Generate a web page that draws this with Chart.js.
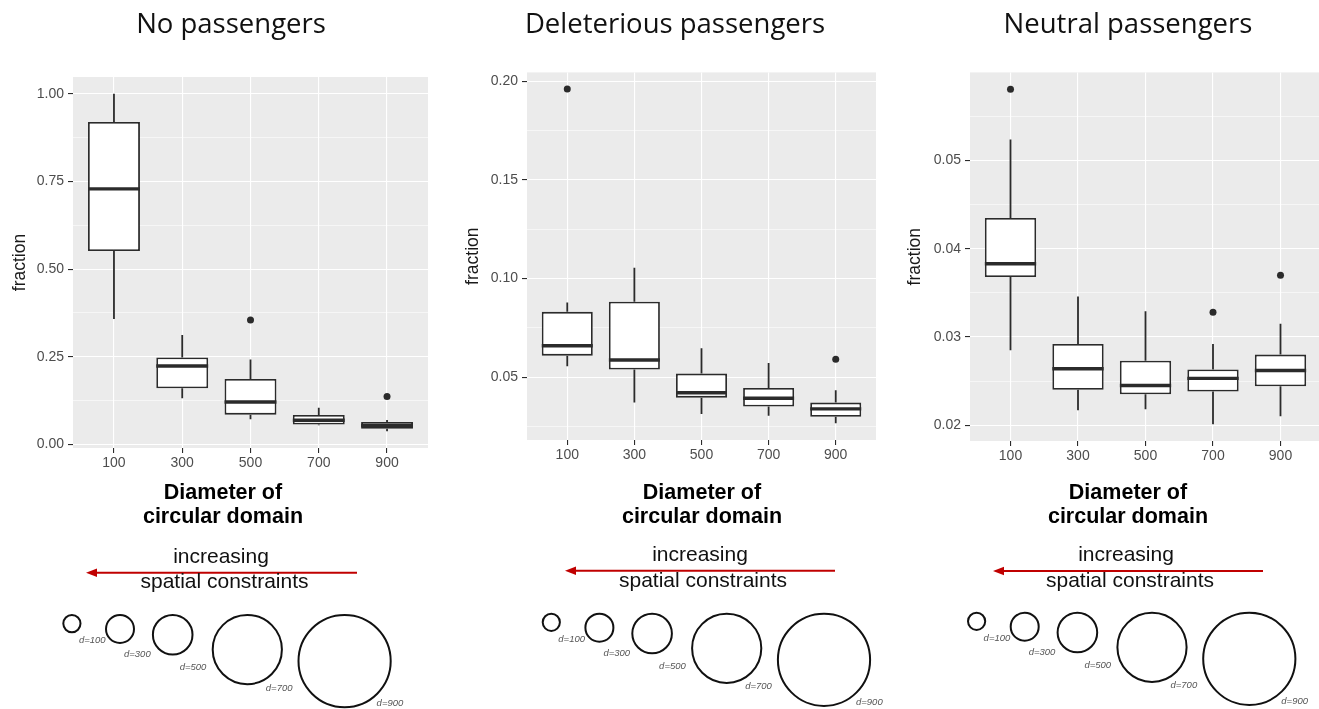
<!DOCTYPE html>
<html>
<head>
<meta charset="utf-8">
<script src="https://cdn.jsdelivr.net/npm/chart.js@4.4.1/dist/chart.umd.min.js"></script>
<style>
html, body { margin: 0; padding: 0; background: #fff; overflow: hidden; }
#page { position: relative; width: 1319px; height: 709px; overflow: hidden; background: #fff; }
#page canvas { position: absolute; }
#deco { position: absolute; left: 0; top: 0; }
</style>
</head>
<body>
<div id="page">
    <canvas id="c1" width="440" height="420" style="left:0px;top:60px"></canvas>
    <canvas id="c2" width="440" height="420" style="left:440px;top:60px"></canvas>
    <canvas id="c3" width="445" height="420" style="left:880px;top:60px"></canvas>
    <svg id="deco" width="1319" height="709"></svg>
</div>
<script>
// categories on the x axis
var diameters = ['100', '300', '500', '700', '900'];
var panelTitles = ['No passengers', 'Deleterious passengers', 'Neutral passengers'];

// No passengers: whisker ends, quartiles, medians
var noLow  = [0.358, 0.132, 0.072, 0.055, 0.038];
var noQ1   = [0.552, 0.160, 0.085, 0.057, 0.045];
var noMed  = [0.729, 0.224, 0.121, 0.069, 0.054];
var noQ3   = [0.920, 0.248, 0.187, 0.084, 0.064];
var noHigh = [1.000, 0.312, 0.242, 0.105, 0.070];
var noOutliers = [[], [], [0.355], [], [0.137]];
var noTicks = [0, 0.25, 0.50, 0.75, 1.00];

// Deleterious passengers
var delLow  = [0.0555, 0.0371, 0.0313, 0.0304, 0.0266];
var delQ1   = [0.0609, 0.0539, 0.0396, 0.0351, 0.0299];
var delMed  = [0.0659, 0.0587, 0.0421, 0.0393, 0.0339];
var delQ3   = [0.0831, 0.0882, 0.0518, 0.0445, 0.0371];
var delHigh = [0.0878, 0.1054, 0.0646, 0.0572, 0.0433];
var delOutliers = [[0.196], [], [], [], [0.059]];
var delTicks = [0.05, 0.10, 0.15, 0.20];

// Neutral passengers
var neuLow  = [0.0285, 0.0217, 0.0218, 0.0201, 0.0210];
var neuQ1   = [0.0368, 0.0240, 0.0235, 0.0238, 0.0244];
var neuMed  = [0.0383, 0.0264, 0.0245, 0.0253, 0.0262];
var neuQ3   = [0.0435, 0.0292, 0.0273, 0.0263, 0.0280];
var neuHigh = [0.0524, 0.0346, 0.0329, 0.0292, 0.0315];
var neuOutliers = [[0.0581], [], [], [0.0328], [0.0370]];
var neuTicks = [0.02, 0.03, 0.04, 0.05];

var INK = '#2b2b2b';
var TICKTEXT = '#4d4d4d';

function makeChart(id, low, q1, med, q3, high, outliers, yTicks, geom) {
    var outPts = [];
    var flatOut = [];
    outliers.forEach(function(list, i) {
        list.forEach(function(v) { outPts.push({x: i, y: v}); flatOut.push(v); });
    });
    // ggplot style 5% expansion of the data range
    var lo = Math.min.apply(null, low.concat(flatOut));
    var hi = Math.max.apply(null, high.concat(flatOut));
    var yMin = lo - (hi - lo) * 0.05;
    var yMax = hi + (hi - lo) * 0.05;

    // major ticks plus minor ones half way between
    var step = yTicks[1] - yTicks[0];
    var allTicks = yTicks.map(function(v) { return {value: v, isMain: true}; });
    for (var k = -1; k < yTicks.length; k++) {
        var m = yTicks[0] + (k + 0.5) * step;
        if (m > yMin && m < yMax) allTicks.push({value: m, isMain: false});
    }
    allTicks.sort(function(a, b) { return a.value - b.value; });

    var boxPlugin = {
        id: 'boxWhiskers',
        beforeDraw: function(chart) {
            var a = chart.chartArea;
            chart.ctx.save();
            chart.ctx.fillStyle = '#EBEBEB';
            chart.ctx.fillRect(a.left, a.top, a.right - a.left, a.bottom - a.top);
            chart.ctx.restore();
        },
        afterDatasetsDraw: function(chart) {
            var ctx = chart.ctx;
            var ys = chart.scales.y;
            var bars = chart.getDatasetMeta(0).data;
            ctx.save();
            ctx.strokeStyle = INK;
            ctx.lineCap = 'butt';
            bars.forEach(function(bar, i) {
                var p = bar.getProps(['x', 'width'], true);
                // whiskers
                ctx.lineWidth = 1.8;
                ctx.beginPath();
                ctx.moveTo(p.x, ys.getPixelForValue(q3[i]));
                ctx.lineTo(p.x, ys.getPixelForValue(high[i]));
                ctx.moveTo(p.x, ys.getPixelForValue(q1[i]));
                ctx.lineTo(p.x, ys.getPixelForValue(low[i]));
                ctx.stroke();
                // median
                ctx.lineWidth = 3.4;
                ctx.beginPath();
                var my = ys.getPixelForValue(med[i]);
                ctx.moveTo(p.x - p.width / 2, my);
                ctx.lineTo(p.x + p.width / 2, my);
                ctx.stroke();
            });
            ctx.restore();
        }
    };

    return new Chart(document.getElementById(id).getContext('2d'), {
        type: 'bar',
        data: {
            datasets: [{
                type: 'bar',
                data: diameters.map(function(d, i) { return {x: i, y: [q1[i], q3[i]]}; }),
                backgroundColor: '#ffffff',
                borderColor: INK,
                borderWidth: 1.8,
                borderSkipped: false,
                categoryPercentage: 1,
                barPercentage: 0.76
            }, {
                type: 'scatter',
                data: outPts,
                pointRadius: 3.5,
                pointBackgroundColor: INK,
                pointBorderWidth: 0
            }]
        },
        options: {
            responsive: false,
            animation: false,
            devicePixelRatio: 1,
            layout: { padding: { top: geom.padTop, right: geom.padRight, left: 0, bottom: 0 } },
            plugins: { legend: { display: false }, tooltip: { enabled: false } },
            scales: {
                x: {
                    type: 'linear',
                    min: -0.6,
                    max: diameters.length - 1 + 0.6,
                    offset: false,
                    afterBuildTicks: function(s) {
                        s.ticks = diameters.map(function(d, i) { return {value: i}; });
                    },
                    afterFit: function(s) { s.height = geom.xHeight; },
                    ticks: {
                        autoSkip: false,
                        maxRotation: 0,
                        padding: 2,
                        color: TICKTEXT,
                        font: { family: 'Liberation Sans', size: 14 },
                        callback: function(v) { return diameters[Math.round(v)]; }
                    },
                    grid: { offset: false, color: '#ffffff', lineWidth: 1.1, tickColor: INK, tickLength: 5 },
                    border: { display: false }
                },
                y: {
                    type: 'linear',
                    min: yMin,
                    max: yMax,
                    beginAtZero: false,
                    afterBuildTicks: function(s) {
                        s.ticks = allTicks.map(function(t) { return {value: t.value, isMain: t.isMain}; });
                    },
                    afterFit: function(s) { s.width = geom.yWidth; },
                    ticks: {
                        autoSkip: false,
                        padding: 4,
                        color: TICKTEXT,
                        font: { family: 'Liberation Sans', size: 14 },
                        callback: function(v, i) { return allTicks[i].isMain ? v.toFixed(2) : ''; }
                    },
                    grid: {
                        color: '#ffffff',
                        lineWidth: function(c) { return c.tick && c.tick.isMain ? 1.1 : 0.55; },
                        tickColor: function(c) { return c.tick && c.tick.isMain ? INK : 'rgba(0,0,0,0)'; },
                        tickLength: 5
                    },
                    border: { display: false },
                    title: {
                        display: true,
                        text: 'fraction',
                        color: '#1a1a1a',
                        font: { family: 'Liberation Sans', size: 17.5 },
                        padding: { top: geom.titlePad, bottom: 0 }
                    }
                }
            }
        },
        plugins: [boxPlugin]
    });
}

makeChart('c1', noLow, noQ1, noMed, noQ3, noHigh, noOutliers, noTicks,
    {yWidth: 73, xHeight: 32, padTop: 17, padRight: 12, titlePad: 10});
makeChart('c2', delLow, delQ1, delMed, delQ3, delHigh, delOutliers, delTicks,
    {yWidth: 87, xHeight: 40, padTop: 10, padRight: 2, titlePad: 23});
makeChart('c3', neuLow, neuQ1, neuMed, neuQ3, neuHigh, neuOutliers, neuTicks,
    {yWidth: 90, xHeight: 39, padTop: 10, padRight: 0, titlePad: 25});

// ---- titles, axis captions and the circle sketches (svg) ----
var svg = document.getElementById('deco');
var NS = 'http://www.w3.org/2000/svg';
function add(tag, attrs, text) {
    var el = document.createElementNS(NS, tag);
    for (var k in attrs) el.setAttribute(k, attrs[k]);
    if (text) el.textContent = text;
    svg.appendChild(el);
    return el;
}

var titleX = [231, 675, 1128];
var captionX = [223, 702, 1128];
var arrowRow = [
    {tx1: 221, tx2: 224.5, b1: 563, b2: 588, x1: 357, x2: 86, y: 572.7},
    {tx1: 700, tx2: 703, b1: 561, b2: 587, x1: 835, x2: 565, y: 570.7},
    {tx1: 1126, tx2: 1130, b1: 561, b2: 587, x1: 1263, x2: 993, y: 571}
];
var sketchBase = [{x: 62.3, y: 614}, {x: 541.7, y: 612.7}, {x: 967, y: 611.7}];
var circleCx = [9.6, 57.7, 110.4, 185, 282.3];
var circleR = [9.6, 15, 20.8, 35.6, 47.1];
var labelDx = [7, 4, 7, 18.5, 32];
var labelDy = [19.5, 28, 35, 41, 45];

panelTitles.forEach(function(t, p) {
    add('text', {x: titleX[p], y: 33, 'text-anchor': 'middle', 'font-family': 'Open Sans', 'font-size': 27.5, fill: '#111'}, t);

    add('text', {x: captionX[p], y: 498.5, 'text-anchor': 'middle', 'font-family': 'Liberation Sans', 'font-weight': 'bold', 'font-size': 21.5, fill: '#000'}, 'Diameter of');
    add('text', {x: captionX[p], y: 523, 'text-anchor': 'middle', 'font-family': 'Liberation Sans', 'font-weight': 'bold', 'font-size': 21.5, fill: '#000'}, 'circular domain');

    var a = arrowRow[p];
    add('line', {x1: a.x1, y1: a.y, x2: a.x2 + 9, y2: a.y, stroke: '#c00000', 'stroke-width': 2});
    add('polygon', {points: a.x2 + ',' + a.y + ' ' + (a.x2 + 11) + ',' + (a.y - 4.2) + ' ' + (a.x2 + 11) + ',' + (a.y + 4.2), fill: '#c00000'});
    add('text', {x: a.tx1, y: a.b1, 'text-anchor': 'middle', 'font-family': 'Liberation Sans', 'font-size': 21, fill: '#111'}, 'increasing');
    add('text', {x: a.tx2, y: a.b2, 'text-anchor': 'middle', 'font-family': 'Liberation Sans', 'font-size': 21, fill: '#111'}, 'spatial constraints');

    var b = sketchBase[p];
    diameters.forEach(function(d, i) {
        var cx = b.x + circleCx[i];
        var cy = b.y + circleR[i];
        add('circle', {cx: cx, cy: cy, r: circleR[i] - 1, fill: 'none', stroke: '#111', 'stroke-width': 2});
        add('text', {x: cx + labelDx[i], y: cy + labelDy[i], 'font-family': 'Liberation Sans', 'font-style': 'italic', 'font-size': 9.5, fill: '#555'}, 'd=' + d);
    });
});
</script>
</body>
</html>
